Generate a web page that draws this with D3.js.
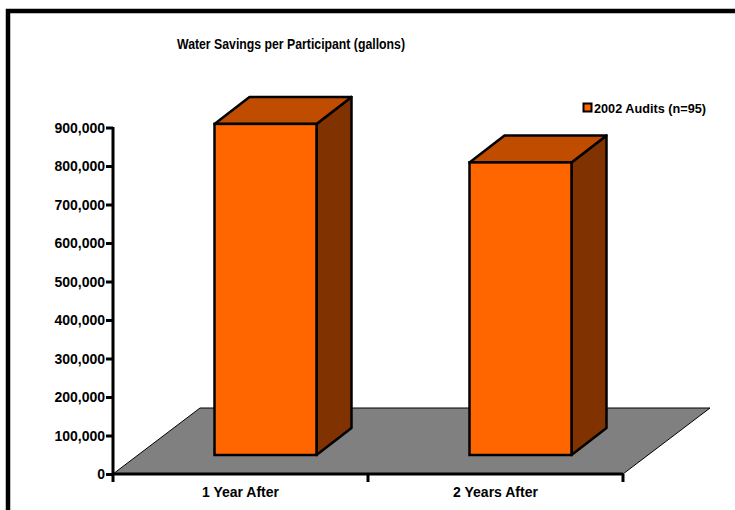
<!DOCTYPE html>
<html>
<head>
<meta charset="utf-8">
<script src="https://cdn.jsdelivr.net/npm/d3@7"></script>
<style>
  html, body { margin: 0; padding: 0; background: #fff; }
  svg { display: block; }
  text { font-family: Arial, "Liberation Sans", sans-serif; font-weight: bold; fill: #000; }
</style>
</head>
<body>
<script>
const categories = ["1 Year After", "2 Years After"];
const seriesName = "2002 Audits (n=95)";
const values = [860000, 760000];
const yTicks = [0, 100000, 200000, 300000, 400000, 500000, 600000, 700000, 800000, 900000];
const title = "Water Savings per Participant (gallons)";

const W = 735, H = 510;
const svg = d3.select("body").append("svg").attr("width", W).attr("height", H);

// outer frame
svg.append("rect").attr("x", 8).attr("y", 11).attr("width", 900).attr("height", 700)
  .attr("fill", "#fff").attr("stroke", "#000").attr("stroke-width", 4.5);

const x0 = 113, x1 = 623, yBase = 474, yTop = 127.5;
const y = d3.scaleLinear().domain([0, 900000]).range([yBase, yTop]);
const x = d3.scaleBand().domain(categories).range([x0, x1]).padding(0);

// depth projection
const floorDX = 87, floorDY = 66;
const barOffDX = 25, barOffDY = 19;
const barDX = 35, barDY = 27;
const barW = x.bandwidth() * 0.4;

// floor
svg.append("path")
  .attr("d", `M${x0},${yBase} L${x1},${yBase} L${x1 + floorDX},${yBase - floorDY} L${x0 + floorDX},${yBase - floorDY} Z`)
  .attr("fill", "#808080").attr("stroke", "#000").attr("stroke-width", 1);

// bars
const bars = svg.append("g").selectAll("g").data(values).join("g");
bars.each(function(v, i) {
  const g = d3.select(this);
  const cx = x(categories[i]) + x.bandwidth() / 2 + barOffDX;
  const l = cx - barW / 2, r = cx + barW / 2;
  const b = y(0) - barOffDY, t = y(v) - barOffDY;
  g.append("path")
    .attr("d", `M${r},${t} L${r + barDX},${t - barDY} L${r + barDX},${b - barDY} L${r},${b} Z`)
    .attr("fill", "#803300").attr("stroke", "#000").attr("stroke-width", 2.5).attr("stroke-linejoin", "round");
  g.append("path")
    .attr("d", `M${l},${t} L${l + barDX},${t - barDY} L${r + barDX},${t - barDY} L${r},${t} Z`)
    .attr("fill", "#c04c00").attr("stroke", "#000").attr("stroke-width", 2.5).attr("stroke-linejoin", "round");
  g.append("rect").attr("x", l).attr("y", t).attr("width", barW).attr("height", b - t)
    .attr("fill", "#ff6600").attr("stroke", "#000").attr("stroke-width", 2.5);
});

// y axis
const yAxis = svg.append("g").attr("transform", `translate(${x0},0)`)
  .call(d3.axisLeft(y).tickValues(yTicks).tickSize(7).tickPadding(1).tickFormat(d3.format(",")));
yAxis.select(".domain").attr("stroke-width", 3).attr("d", `M0,${yTop - 0.5}V${yBase}`);
yAxis.selectAll(".tick line").attr("stroke-width", 3);
yAxis.selectAll(".tick text").attr("font-size", 14).attr("font-weight", "bold")
  .attr("font-family", "Arial, 'Liberation Sans', sans-serif").attr("fill", "#000").attr("dy", "0.35em");

// x axis line and ticks at category boundaries
const xa = svg.append("g");
xa.append("line").attr("x1", x0).attr("x2", x1).attr("y1", yBase).attr("y2", yBase)
  .attr("stroke", "#000").attr("stroke-width", 3);
const bounds = categories.map(c => x(c)).concat([x1]);
xa.selectAll("line.tk").data(bounds).join("line").attr("class", "tk")
  .attr("x1", d => d).attr("x2", d => d).attr("y1", yBase).attr("y2", yBase + 8)
  .attr("stroke", "#000").attr("stroke-width", 3);
xa.selectAll("text").data(categories).join("text")
  .attr("x", d => x(d) + x.bandwidth() / 2).attr("y", 497)
  .attr("text-anchor", "middle").attr("font-size", 14).text(d => d);

// title
svg.append("text").attr("x", 291).attr("y", 48.5).attr("text-anchor", "middle")
  .attr("font-size", 14.5).attr("textLength", 228).attr("lengthAdjust", "spacingAndGlyphs").text(title);

// legend
svg.append("rect").attr("x", 583.5).attr("y", 103.5).attr("width", 8).attr("height", 8)
  .attr("fill", "#ff6600").attr("stroke", "#000").attr("stroke-width", 2);
svg.append("text").attr("x", 594).attr("y", 112.5).attr("font-size", 12.7).text(seriesName);
</script>
</body>
</html>
